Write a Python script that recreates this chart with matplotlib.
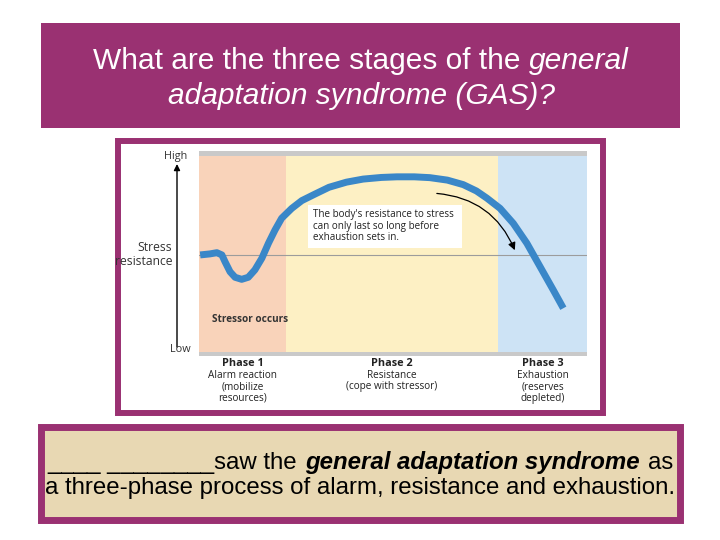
import matplotlib
matplotlib.use("Agg")
import matplotlib.pyplot as plt
from matplotlib.patches import Rectangle

# chart data
phase_bounds = [0, 22.4, 77.1, 100]
phase_colors = ["#F9D3BA", "#FDF0C4", "#CDE3F5"]
phase_names = ["Phase 1", "Phase 2", "Phase 3"]
phase_desc = ["Alarm reaction\n(mobilize\nresources)",
              "Resistance\n(cope with stressor)",
              "Exhaustion\n(reserves\ndepleted)"]

curve_x = [0.3, 2.8, 4.6, 5.9, 6.7, 8.0, 9.3, 11.0, 12.7, 14.4, 16.2, 17.9,
           19.6, 21.3, 23.9, 26.5, 29.9, 33.5, 38.0, 42.3, 47.0, 51.0, 55.5,
           59.5, 64.0, 68.1, 71.5, 74.2, 77.6, 81.0, 84.5, 87.9, 91.3, 93.9]
curve_y = [49.3, 49.8, 50.4, 49.3, 46.0, 41.1, 38.4, 37.4, 38.4, 42.0, 47.7, 55.0,
           61.5, 67.2, 72.0, 75.8, 79.0, 82.3, 84.8, 86.3, 87.1, 87.4, 87.4,
           87.0, 85.8, 83.6, 80.5, 77.0, 72.0, 64.7, 55.0, 43.6, 32.2, 23.3]
baseline_level = 49.4

note_text = "The body's resistance to stress\ncan only last so long before\nexhaustion sets in."
title_line1 = [("What are the three stages of the", "normal"), ("general", "italic")]
title_line2 = "adaptation syndrome (GAS)?"
bottom_line1 = ["____ ________saw the", "general adaptation syndrome", "as"]
bottom_line2 = "a three-phase process of alarm, resistance and exhaustion."

PURPLE = "#9A3172"
SLIDE_FONT = "Liberation Sans"
CHART_FONT = "Open Sans"

fig = plt.figure(figsize=(7.2, 5.4), dpi=100, facecolor="white")
bg = fig.add_axes([0, 0, 1, 1])
bg.set_xlim(0, 720)
bg.set_ylim(540, 0)
bg.axis("off")
renderer = fig.canvas.get_renderer()


def text_width(t):
    return t.get_window_extent(renderer).width


def space_width(size):
    a = bg.text(0, 0, "x x", fontsize=size, family=SLIDE_FONT)
    b = bg.text(0, 0, "xx", fontsize=size, family=SLIDE_FONT)
    w = text_width(a) - text_width(b)
    a.remove()
    b.remove()
    return w


def fit_size(s, target):
    t = bg.text(0, 0, s, fontsize=20, family=SLIDE_FONT)
    w = text_width(t)
    t.remove()
    return 20 * target / w


# title box
bg.add_patch(Rectangle((41, 23), 639, 105, facecolor=PURPLE, edgecolor="none"))
full1 = title_line1[0][0] + " " + title_line1[1][0]
tsize = fit_size(full1, 533)
gap = space_width(tsize)
parts = []
for s, st in title_line1:
    parts.append(bg.text(0, 69, s, fontsize=tsize, fontstyle=st, color="white",
                         va="baseline", family=SLIDE_FONT))
ws = [text_width(p) for p in parts]
x0 = 361 - (sum(ws) + gap) / 2
parts[0].set_x(x0)
parts[1].set_x(x0 + ws[0] + gap)
bg.text(362, 104, title_line2, fontsize=tsize, fontstyle="italic", color="white",
        va="baseline", ha="center", family=SLIDE_FONT)

# chart frame
bg.add_patch(Rectangle((118, 141), 485, 272, facecolor="white", edgecolor=PURPLE, lw=4.3))

# bottom box
bg.add_patch(Rectangle((40.5, 426.5), 639, 93, facecolor="#E8D8B3", edgecolor=PURPLE, lw=5))
bsize = fit_size(bottom_line2, 631)
bg.text(45, 494, bottom_line2, fontsize=bsize, va="baseline", ha="left", family=SLIDE_FONT)
b1 = bg.text(47, 469, bottom_line1[0], fontsize=bsize, va="baseline", ha="left", family=SLIDE_FONT)
b3 = bg.text(673, 469, bottom_line1[2], fontsize=bsize, va="baseline", ha="right", family=SLIDE_FONT)
b2 = bg.text(0, 469, bottom_line1[1], fontsize=bsize, fontstyle="italic", fontweight="bold",
             va="baseline", ha="left", family=SLIDE_FONT)
left_end = 47 + text_width(b1)
right_start = 673 - text_width(b3)
b2.set_x((left_end + right_start) / 2 - text_width(b2) / 2)

# y axis arrow and labels (outside the plot area)
bg.annotate("", xy=(177, 164), xytext=(177, 347),
            arrowprops=dict(arrowstyle="-|>", color="black", lw=1.0, mutation_scale=9,
                            shrinkA=0, shrinkB=0))
bg.text(176, 157, "High", fontsize=7.8, ha="center", va="center", color="#333333", family=CHART_FONT)
bg.text(180, 350, "Low", fontsize=7.8, ha="center", va="center", color="#333333", family=CHART_FONT)
clip = Rectangle((121, 144), 479, 266, transform=bg.transData, facecolor="none", edgecolor="none")
bg.add_patch(clip)
for lbl, yy in [("Stress", 247.5), ("resistance", 261.5)]:
    t = bg.text(172, yy, lbl, fontsize=8.7, ha="right", va="center", color="#333333", family=CHART_FONT)
    t.set_clip_path(clip)

# chart axes
ax = fig.add_axes([199 / 720, (540 - 356) / 540, 388 / 720, 205 / 540])
ax.set_xlim(0, 100)
ax.set_ylim(0, 100)
ax.axis("off")

for i in range(3):
    ax.axvspan(phase_bounds[i], phase_bounds[i + 1], ymin=0.02, ymax=0.976,
               facecolor=phase_colors[i], edgecolor="none", zorder=0)
ax.axhspan(97.6, 100, facecolor="#C9C9C9", edgecolor="none", zorder=0)
ax.axhspan(0, 2, facecolor="#C9C9C9", edgecolor="none", zorder=0)
ax.axhline(baseline_level, color="#9C9C9C", lw=0.8, zorder=1)

ax.plot(curve_x, curve_y, color="#3A87C8", lw=5, solid_capstyle="butt",
        solid_joinstyle="round", zorder=3)

ax.add_patch(Rectangle((28.2, 52.6), 39.5, 21.2, facecolor="white", edgecolor="none", zorder=2))
ax.text(29.4, 63.4, note_text, fontsize=7.1, ha="left", va="center", linespacing=1.12,
        color="#222222", family=CHART_FONT, zorder=4)
ax.annotate("", xy=(81.4, 51.6), xytext=(61.3, 79.3),
            arrowprops=dict(arrowstyle="-|>", color="black", lw=0.9, mutation_scale=11,
                            connectionstyle="arc3,rad=-0.3", shrinkA=0, shrinkB=0), zorder=4)

ax.text(3.3, 18.0, "Stressor occurs", fontsize=7.2, fontweight="bold", ha="left", va="center",
        color="#333333", family=CHART_FONT)

for i in range(3):
    cx = (phase_bounds[i] + phase_bounds[i + 1]) / 2
    ax.text(cx, -3.9, phase_names[i], fontsize=7.8, fontweight="bold", ha="center", va="center",
            color="#222222", family=CHART_FONT, clip_on=False)
    ax.text(cx, -6.8, phase_desc[i], fontsize=7.2, ha="center", va="top", linespacing=1.05,
            color="#222222", family=CHART_FONT, clip_on=False)

fig.savefig("out.png", dpi=100)
